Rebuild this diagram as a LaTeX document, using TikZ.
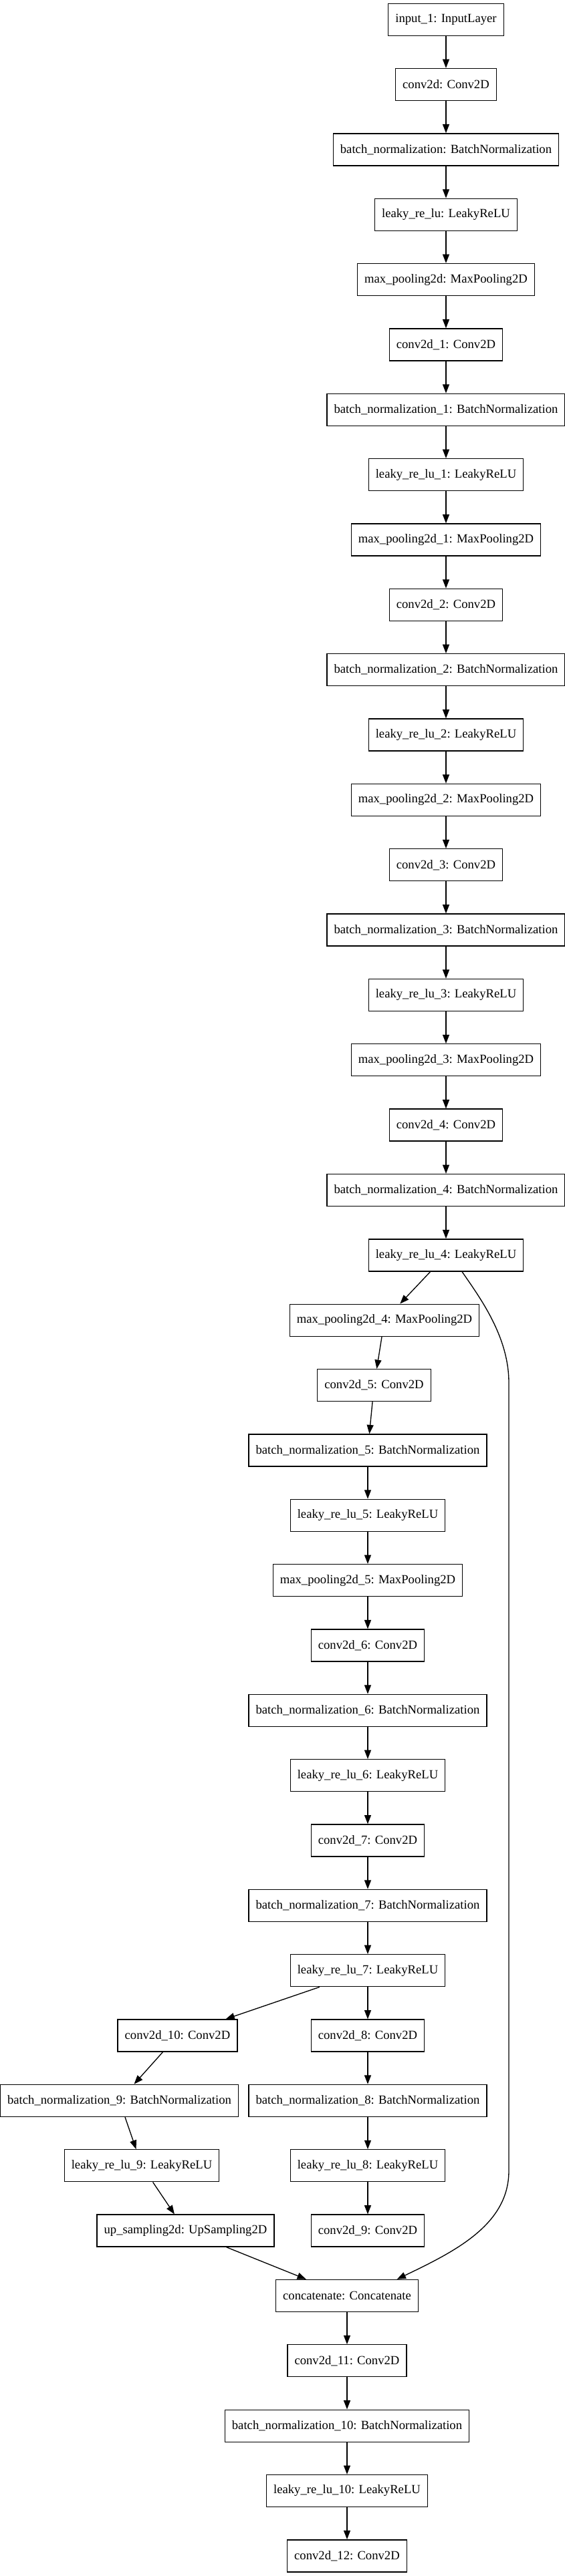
\documentclass[tikz,border=0pt]{standalone}
\usepackage{fontspec}
\setmainfont{Liberation Serif}
\usetikzlibrary{arrows.meta}

\tikzset{
  layer/.style={draw, line width=1pt, minimum height=36pt, inner xsep=7.9pt, inner ysep=0pt,
    font=\fontsize{14}{16}\selectfont},
  arr/.style={-{Triangle[length=10pt,width=7.5pt]}, line width=1pt}
}

\begin{document}
\begin{tikzpicture}[x=0.75pt, y=-73.0125pt]
    \useasboundingbox (0,-0.3) rectangle (845,39.31);

    % encoder
    \node[layer] (in1) at (667,0) {input\_1: InputLayer};
    \node[layer] (cv0) at (667,1) {conv2d: Conv2D};
    \node[layer] (bn0) at (667,2) {batch\_normalization: BatchNormalization};
    \node[layer] (lr0) at (667,3) {leaky\_re\_lu: LeakyReLU};
    \node[layer] (mp0) at (667,4) {max\_pooling2d: MaxPooling2D};
    \node[layer] (cv1) at (667,5) {conv2d\_1: Conv2D};
    \node[layer] (bn1) at (667,6) {batch\_normalization\_1: BatchNormalization};
    \node[layer] (lr1) at (667,7) {leaky\_re\_lu\_1: LeakyReLU};
    \node[layer] (mp1) at (667,8) {max\_pooling2d\_1: MaxPooling2D};
    \node[layer] (cv2) at (667,9) {conv2d\_2: Conv2D};
    \node[layer] (bn2) at (667,10) {batch\_normalization\_2: BatchNormalization};
    \node[layer] (lr2) at (667,11) {leaky\_re\_lu\_2: LeakyReLU};
    \node[layer] (mp2) at (667,12) {max\_pooling2d\_2: MaxPooling2D};
    \node[layer] (cv3) at (667,13) {conv2d\_3: Conv2D};
    \node[layer] (bn3) at (667,14) {batch\_normalization\_3: BatchNormalization};
    \node[layer] (lr3) at (667,15) {leaky\_re\_lu\_3: LeakyReLU};
    \node[layer] (mp3) at (667,16) {max\_pooling2d\_3: MaxPooling2D};
    \node[layer] (cv4) at (667,17) {conv2d\_4: Conv2D};
    \node[layer] (bn4) at (667,18) {batch\_normalization\_4: BatchNormalization};
    \node[layer] (lr4) at (667,19) {leaky\_re\_lu\_4: LeakyReLU};
    \node[layer] (mp4) at (575,20) {max\_pooling2d\_4: MaxPooling2D};
    \node[layer] (cv5) at (559.5,21) {conv2d\_5: Conv2D};
    \node[layer] (bn5) at (550,22) {batch\_normalization\_5: BatchNormalization};
    \node[layer] (lr5) at (550,23) {leaky\_re\_lu\_5: LeakyReLU};
    \node[layer] (mp5) at (550,24) {max\_pooling2d\_5: MaxPooling2D};
    \node[layer] (cv6) at (550,25) {conv2d\_6: Conv2D};
    \node[layer] (bn6) at (550,26) {batch\_normalization\_6: BatchNormalization};
    \node[layer] (lr6) at (550,27) {leaky\_re\_lu\_6: LeakyReLU};
    \node[layer] (cv7) at (550,28) {conv2d\_7: Conv2D};
    \node[layer] (bn7) at (550,29) {batch\_normalization\_7: BatchNormalization};
    \node[layer] (lr7) at (550,30) {leaky\_re\_lu\_7: LeakyReLU};

    % two branches
    \node[layer] (cv10) at (265.5,31) {conv2d\_10: Conv2D};
    \node[layer] (bn9) at (178.5,32) {batch\_normalization\_9: BatchNormalization};
    \node[layer] (lr9) at (212,33) {leaky\_re\_lu\_9: LeakyReLU};
    \node[layer] (up) at (277.5,34) {up\_sampling2d: UpSampling2D};
    \node[layer] (cv8) at (550,31) {conv2d\_8: Conv2D};
    \node[layer] (bn8) at (550,32) {batch\_normalization\_8: BatchNormalization};
    \node[layer] (lr8) at (550,33) {leaky\_re\_lu\_8: LeakyReLU};
    \node[layer] (cv9) at (550,34) {conv2d\_9: Conv2D};

    % decoder
    \node[layer] (cat) at (519,35) {concatenate: Concatenate};
    \node[layer] (cv11) at (519,36) {conv2d\_11: Conv2D};
    \node[layer] (bn10) at (519,37) {batch\_normalization\_10: BatchNormalization};
    \node[layer] (lr10) at (519,38) {leaky\_re\_lu\_10: LeakyReLU};
    \node[layer] (cv12) at (519,39) {conv2d\_12: Conv2D};

    \draw[arr] (in1) -- (cv0);
    \draw[arr] (cv0) -- (bn0);
    \draw[arr] (bn0) -- (lr0);
    \draw[arr] (lr0) -- (mp0);
    \draw[arr] (mp0) -- (cv1);
    \draw[arr] (cv1) -- (bn1);
    \draw[arr] (bn1) -- (lr1);
    \draw[arr] (lr1) -- (mp1);
    \draw[arr] (mp1) -- (cv2);
    \draw[arr] (cv2) -- (bn2);
    \draw[arr] (bn2) -- (lr2);
    \draw[arr] (lr2) -- (mp2);
    \draw[arr] (mp2) -- (cv3);
    \draw[arr] (cv3) -- (bn3);
    \draw[arr] (bn3) -- (lr3);
    \draw[arr] (lr3) -- (mp3);
    \draw[arr] (mp3) -- (cv4);
    \draw[arr] (cv4) -- (bn4);
    \draw[arr] (bn4) -- (lr4);
    \draw[arr] (lr4) -- (mp4);
    \draw[arr] (mp4) -- (cv5);
    \draw[arr] (cv5) -- (bn5);
    \draw[arr] (bn5) -- (lr5);
    \draw[arr] (lr5) -- (mp5);
    \draw[arr] (mp5) -- (cv6);
    \draw[arr] (cv6) -- (bn6);
    \draw[arr] (bn6) -- (lr6);
    \draw[arr] (lr6) -- (cv7);
    \draw[arr] (cv7) -- (bn7);
    \draw[arr] (bn7) -- (lr7);
    \draw[arr] (lr7) -- (cv10);
    \draw[arr] (cv10) -- (bn9);
    \draw[arr] (bn9) -- (lr9);
    \draw[arr] (lr9) -- (up);
    \draw[arr] (up) -- (cat);
    \draw[arr] (lr7) -- (cv8);
    \draw[arr] (cv8) -- (bn8);
    \draw[arr] (bn8) -- (lr8);
    \draw[arr] (lr8) -- (cv9);
    \draw[arr] (cat) -- (cv11);
    \draw[arr] (cv11) -- (bn10);
    \draw[arr] (bn10) -- (lr10);
    \draw[arr] (lr10) -- (cv12);

    % skip connection
    \coordinate (skiptop) at (761,20.96);
    \coordinate (skipbot) at (761,33.08);
    \draw[arr] ([xshift=18pt]lr4.south) .. controls (716,19.63) and (761,20.24) .. (skiptop)
      -- (skipbot) .. controls (761,33.91) and (680,34.32) .. ([xshift=56pt]cat.north);
\end{tikzpicture}
\end{document}
